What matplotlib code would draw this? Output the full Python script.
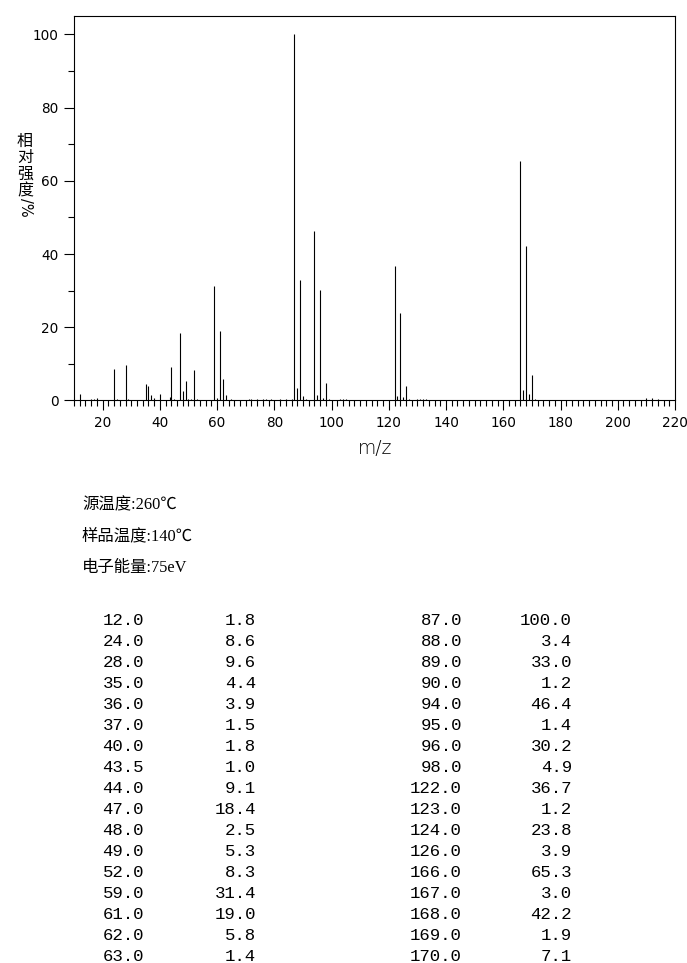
import matplotlib
matplotlib.use("Agg")
import matplotlib.pyplot as plt
from matplotlib.ticker import MultipleLocator

# ---- data ----
table_mz = [12.0, 24.0, 28.0, 35.0, 36.0, 37.0, 40.0, 43.5, 44.0, 47.0, 48.0, 49.0,
            52.0, 59.0, 61.0, 62.0, 63.0,
            87.0, 88.0, 89.0, 90.0, 94.0, 95.0, 96.0, 98.0, 122.0, 123.0, 124.0,
            126.0, 166.0, 167.0, 168.0, 169.0, 170.0]
table_int = [1.8, 8.6, 9.6, 4.4, 3.9, 1.5, 1.8, 1.0, 9.1, 18.4, 2.5, 5.3,
             8.3, 31.4, 19.0, 5.8, 1.4,
             100.0, 3.4, 33.0, 1.2, 46.4, 1.4, 30.2, 4.9, 36.7, 1.2, 23.8,
             3.9, 65.3, 3.0, 42.2, 1.9, 7.1]

# small unlisted peaks
minor_mz = [16, 17, 18, 25, 29, 38, 45, 50, 51, 53, 60, 65, 71, 72, 74, 76, 77,
            79, 82, 84, 86, 91, 97, 99, 103, 104, 105, 125, 127, 130, 131, 132,
            133, 171, 210, 212, 214]
minor_int = [0.5, 0.4, 0.6, 0.3, 0.5, 0.8, 0.4, 0.3, 0.5, 0.4, 0.7, 0.3, 0.5, 0.3,
             0.4, 0.5, 0.3, 0.4, 0.3, 0.3, 0.3, 0.4, 0.7, 0.3, 0.3, 0.3, 0.3, 0.9,
             0.3, 0.5, 0.3, 0.4, 0.3, 0.3, 0.6, 0.7, 0.3]

params = ["源温度:260℃", "样品温度:140℃", "电子能量:75eV"]

x_range = (10, 220)
y_range = (0, 105)

# ---- figure ----
W, H = 687, 963
fig = plt.figure(figsize=(W / 100, H / 100), dpi=100)
fig.patch.set_facecolor("white")

def fx(px):
    return px / W

def fy(py):
    return 1 - py / H

ax = fig.add_axes([fx(74), fy(400.5), fx(675) - fx(74), fy(16) - fy(400.5)])
ax.vlines(table_mz + minor_mz, 0, table_int + minor_int, colors="black", linewidth=0.8)
ax.set_xlim(*x_range)
ax.set_ylim(*y_range)

ax.xaxis.set_major_locator(MultipleLocator(20))
ax.xaxis.set_minor_locator(MultipleLocator(2))
ax.yaxis.set_major_locator(MultipleLocator(20))
ax.yaxis.set_minor_locator(MultipleLocator(10))
ax.tick_params(which="major", length=7.5, width=0.8, direction="out", pad=3.5,
               labelsize=9.8, colors="black")
ax.tick_params(which="minor", length=4.5, width=0.8, direction="out")
for s in ax.spines.values():
    s.set_linewidth(0.8)

# axis labels
fig.text(fx(375), fy(448), "m/z", ha="center", va="center", fontsize=13.5,
         family="DejaVu Sans", fontweight="light")
ylab_chars = ["相", "对", "强", "度"]
for i, ch in enumerate(ylab_chars):
    fig.text(fx(25), fy(141 + i * 16.5), ch, ha="center", va="center", fontsize=11.5,
             family=["Noto Sans CJK SC", "DejaVu Sans"])
fig.text(fx(25), fy(207.5), "/%", ha="center", va="center", fontsize=10.5,
         rotation=-90, family="DejaVu Sans")

# parameter lines
for i, t in enumerate(params):
    fig.text(fx(82), fy(505 + i * 31.5), t, ha="left", va="center", fontsize=11.8,
             family=["Liberation Serif", "Noto Sans CJK SC", "DejaVu Sans"])

# peak table
n = 17
for i in range(n):
    yy = fy(620.5 + i * 21)
    fig.text(fx(144), yy, f"{table_mz[i]:.1f}", ha="right", va="center",
             fontsize=12.5, family="Liberation Mono")
    fig.text(fx(256), yy, f"{table_int[i]:.1f}", ha="right", va="center",
             fontsize=12.5, family="Liberation Mono")
    fig.text(fx(462), yy, f"{table_mz[n + i]:.1f}", ha="right", va="center",
             fontsize=12.5, family="Liberation Mono")
    fig.text(fx(572), yy, f"{table_int[n + i]:.1f}", ha="right", va="center",
             fontsize=12.5, family="Liberation Mono")

fig.savefig("out.png", dpi=100)
